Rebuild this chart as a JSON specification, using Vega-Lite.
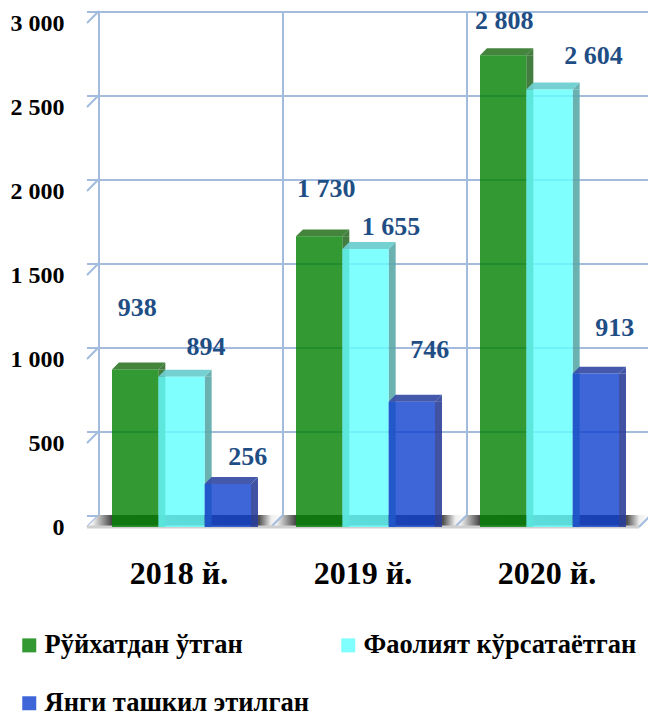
{
"$schema":"https://vega.github.io/schema/vega-lite/v6.json",
"autosize":{"type":"none"},
"padding":{"left":87,"top":23,"right":9,"bottom":186},
"width":552,"height":504,
"background":"white",
"config":{
 "view":{"stroke":null},
 "locale":{"number":{"decimal":".","thousands":" ","grouping":[3],"currency":["",""]}},
 "axisX":{"domain":false,"ticks":false,"grid":false,"labelFont":"Liberation Serif","labelFontWeight":"bold","labelFontSize":32,"labelColor":"#000","labelPadding":31,"labelAngle":0},
 "axisY":{"domain":false,"ticks":false,"grid":false,"labelFont":"Liberation Serif","labelFontWeight":"bold","labelFontSize":24,"labelColor":"#000","labelPadding":23,"format":",d"}
},
"datasets":{
 "rows":[
  {"year":"2018 й.","series":"Рўйхатдан ўтган","value":938},
  {"year":"2018 й.","series":"Фаолият кўрсатаётган","value":894},
  {"year":"2018 й.","series":"Янги ташкил этилган","value":256},
  {"year":"2019 й.","series":"Рўйхатдан ўтган","value":1730},
  {"year":"2019 й.","series":"Фаолият кўрсатаётган","value":1655},
  {"year":"2019 й.","series":"Янги ташкил этилган","value":746},
  {"year":"2020 й.","series":"Рўйхатдан ўтган","value":2808},
  {"year":"2020 й.","series":"Фаолият кўрсатаётган","value":2604},
  {"year":"2020 й.","series":"Янги ташкил этилган","value":913}
 ],
 "ticks":[{"tick":0},{"tick":500},{"tick":1000},{"tick":1500},{"tick":2000},{"tick":2500},{"tick":3000}],
 "years":[{"year":"2018 й."},{"year":"2019 й."},{"year":"2020 й."}]
},
"resolve":{"scale":{"xOffset":"independent","color":"independent"}},
"layer":[
 {"data":{"name":"ticks"},
  "mark":{"type":"rule","color":"#a3bcde","strokeWidth":2,"xOffset":12,"yOffset":-11,"x2Offset":12},
  "encoding":{"y":{"field":"tick","type":"quantitative","title":null,"axis":{"values":[0,500,1000,1500,2000,2500,3000]},"scale":{"domain":[0,3000]}}}},
 {"data":{"name":"ticks"},
  "mark":{"type":"point","filled":false,"shape":"M-1,0 L-0.87,-0.13","size":33856,"color":"#a3bcde","strokeWidth":2,"opacity":1},
  "encoding":{"x":{"datum":"2018 й.","type":"nominal","title":null,"scale":{"domain":["2018 й.","2019 й.","2020 й."],"paddingInner":0,"paddingOuter":0}},
   "y":{"field":"tick","type":"quantitative","title":null}}},
 {"data":{"name":"years"},
  "mark":{"type":"rule","color":"#a3bcde","strokeWidth":2,"xOffset":-80,"yOffset":-12,"y2Offset":-12},
  "encoding":{"x":{"field":"year","type":"nominal","title":null},"y":{"datum":3000,"type":"quantitative","title":null},"y2":{"datum":0}}},
 {"data":{"name":"years"},
  "mark":{"type":"point","filled":true,"shape":"M-1,0 L-0.87,-0.13 L1.13,-0.13 L1,0 Z","size":33856,"opacity":1,
   "fill":{"gradient":"linear","x1":0,"y1":0,"x2":1,"y2":0,"stops":[{"offset":0,"color":"#ffffff"},{"offset":0.03,"color":"#f0f0f0"},{"offset":0.08,"color":"#999999"},{"offset":0.128,"color":"#444444"},{"offset":0.84,"color":"#333333"},{"offset":0.88,"color":"#555555"},{"offset":0.94,"color":"#eeeeee"},{"offset":1,"color":"#ffffff"}]}},
  "encoding":{"x":{"field":"year","type":"nominal","title":null},"y":{"datum":0,"type":"quantitative","title":null}}},
 {"data":{"name":"years"},
  "mark":{"type":"point","filled":false,"shape":"M-1,0 L-0.87,-0.13","size":33856,"color":"#a3bcde","strokeWidth":2,"opacity":1,"xOffset":184},
  "encoding":{"x":{"field":"year","type":"nominal","title":null},"y":{"datum":0,"type":"quantitative","title":null}}},
 {"data":{"name":"ticks"},"transform":[{"filter":"datum.tick===0"}],
  "mark":{"type":"rule","color":"#cfcfcf","strokeWidth":3},
  "encoding":{"y":{"field":"tick","type":"quantitative","title":null}}},
 {"data":{"name":"rows"},
  "mark":{"type":"bar","width":7,"opacity":0.9,"y2Offset":-7},
  "encoding":{
   "x":{"field":"year","type":"nominal","title":null},
   "xOffset":{"field":"series","type":"nominal","scale":{"range":[51.67,190.67],"paddingInner":0,"paddingOuter":0}},
   "y":{"field":"value","type":"quantitative","title":null},
   "color":{"field":"series","type":"nominal","legend":null,"scale":{"range":["#2f6f2a","#5aa8a8","#2b3f97"]}}}},
 {"data":{"name":"rows"},
  "mark":{"type":"point","filled":true,"shape":"M1,0 L1.3,-0.3 L1.3,0 Z","size":2147,"opacity":0.9},
  "encoding":{
   "x":{"field":"year","type":"nominal","title":null},
   "xOffset":{"field":"series","type":"nominal","scale":{"range":[48.17,140.83],"paddingInner":0,"paddingOuter":0}},
   "y":{"field":"value","type":"quantitative","title":null},
   "color":{"field":"series","type":"nominal","legend":null,"scale":{"range":["#2f6f2a","#5aa8a8","#2b3f97"]}}}},
 {"data":{"name":"rows"},
  "mark":{"type":"point","filled":true,"shape":"M1,0 L1.3,-0.3 L1,-0.3 Z","size":2147,"opacity":0.9},
  "encoding":{
   "x":{"field":"year","type":"nominal","title":null},
   "xOffset":{"field":"series","type":"nominal","scale":{"range":[48.17,140.83],"paddingInner":0,"paddingOuter":0}},
   "y":{"datum":0,"type":"quantitative","title":null},
   "color":{"field":"series","type":"nominal","legend":null,"scale":{"range":["#2f6f2a","#5aa8a8","#2b3f97"]}}}},
 {"data":{"name":"rows"},
  "mark":{"type":"point","filled":true,"shape":"M-1,0 L-0.7,-0.3 L1.3,-0.3 L1,0 Z","size":2147,"opacity":0.95},
  "encoding":{
   "x":{"field":"year","type":"nominal","title":null},
   "xOffset":{"field":"series","type":"nominal","scale":{"range":[48.17,140.83],"paddingInner":0,"paddingOuter":0}},
   "y":{"field":"value","type":"quantitative","title":null},
   "color":{"field":"series","type":"nominal","legend":null,"scale":{"range":["#3a7d33","#6ecfcf","#3b50a8"]}}}},
 {"data":{"name":"rows"},
  "mark":{"type":"bar","opacity":0.82},
  "encoding":{
   "x":{"field":"year","type":"nominal","title":null},
   "xOffset":{"field":"series","type":"nominal","scale":{"range":[25,164],"paddingInner":0,"paddingOuter":0}},
   "y":{"field":"value","type":"quantitative","title":null},
   "color":{"field":"series","type":"nominal","scale":{"range":["#068206","#64ffff","#1444cf"]},
    "legend":{"orient":"none","direction":"horizontal","legendX":-71,"legendY":609,"columns":2,"title":null,"symbolType":"square","symbolSize":196,"symbolOpacity":0.82,"symbolStrokeWidth":0,"labelFont":"Liberation Serif","labelFontWeight":"bold","labelFontSize":26.5,"labelColor":"#000","labelLimit":400,"labelOffset":2,"rowPadding":31,"columnPadding":26,"padding":0}}}},
 {"data":{"name":"rows"},
  "encoding":{
   "x":{"field":"year","type":"nominal","title":null},
   "xOffset":{"field":"series","type":"nominal","scale":{"range":[48.17,140.83],"paddingInner":0,"paddingOuter":0}},
   "y":{"field":"value","type":"quantitative","title":null},
   "text":{"field":"value","type":"quantitative","format":",d"}},
  "layer":[
   {"transform":[{"filter":"datum.value===938"}],"mark":{"type":"text","dx":2,"dy":-61,"font":"Liberation Serif","fontWeight":"bold","fontSize":26,"color":"#1f4e85"}},
   {"transform":[{"filter":"datum.value===894"}],"mark":{"type":"text","dx":24.5,"dy":-30,"font":"Liberation Serif","fontWeight":"bold","fontSize":26,"color":"#1f4e85"}},
   {"transform":[{"filter":"datum.value===256"}],"mark":{"type":"text","dx":20,"dy":-27,"font":"Liberation Serif","fontWeight":"bold","fontSize":26,"color":"#1f4e85"}},
   {"transform":[{"filter":"datum.value===1730"}],"mark":{"type":"text","dx":7,"dy":-47,"font":"Liberation Serif","fontWeight":"bold","fontSize":26,"color":"#1f4e85"}},
   {"transform":[{"filter":"datum.value===1655"}],"mark":{"type":"text","dx":25.5,"dy":-22,"font":"Liberation Serif","fontWeight":"bold","fontSize":26,"color":"#1f4e85"}},
   {"transform":[{"filter":"datum.value===746"}],"mark":{"type":"text","dx":18,"dy":-52,"font":"Liberation Serif","fontWeight":"bold","fontSize":26,"color":"#1f4e85"}},
   {"transform":[{"filter":"datum.value===2808"}],"mark":{"type":"text","dx":1,"dy":-34,"font":"Liberation Serif","fontWeight":"bold","fontSize":26,"color":"#1f4e85"}},
   {"transform":[{"filter":"datum.value===2604"}],"mark":{"type":"text","dx":44,"dy":-34,"font":"Liberation Serif","fontWeight":"bold","fontSize":26,"color":"#1f4e85"}},
   {"transform":[{"filter":"datum.value===913"}],"mark":{"type":"text","dx":19,"dy":-46,"font":"Liberation Serif","fontWeight":"bold","fontSize":26,"color":"#1f4e85"}}
  ]}
]
}
